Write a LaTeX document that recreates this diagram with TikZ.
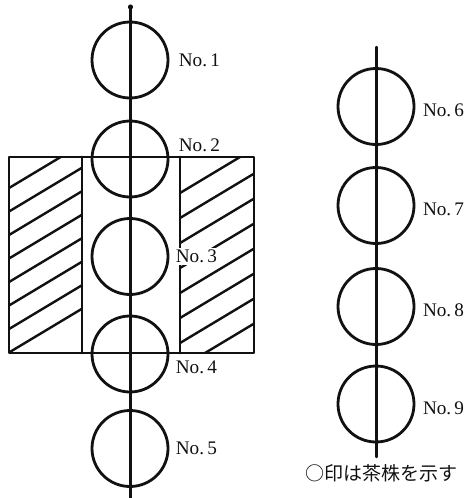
\documentclass[tikz,border=0pt]{standalone}
\usepackage{fontspec}
\setmainfont{Liberation Serif}
\newfontfamily\jpfont{Noto Sans CJK JP}
\usepackage{xcolor}
\usepackage{tikz}
\usetikzlibrary{positioning}
\definecolor{tpInk}{HTML}{111111}
\tikzset{
  tp diagram/.style={font=\fontsize{9.6}{11}\selectfont, text=tpInk,
    line cap=round, line join=round},
  tp plant/.style={circle, draw=tpInk, line width=1.4pt,
    minimum size=38pt, inner sep=0pt},
  tp axis/.style={draw=tpInk, line width=1.2pt},
  tp bed/.style={draw=tpInk, line width=1.4pt},
  tp hatch/.style={draw=tpInk, line width=1.2pt},
  tp label/.style={inner sep=1pt},
  tp note/.style={font=\jpfont\fontsize{9.5}{11}\selectfont, inner sep=0pt}
}
\begin{document}
\begin{tikzpicture}[tp diagram,x=0.5pt,y=-0.5pt]
\useasboundingbox (0,0) rectangle (463,498);
% hatched beds
\draw[tp bed] (9,157) rectangle (254,353);
\draw[tp bed] (82,157) -- (82,353);
\draw[tp bed] (180,157) -- (180,353);
\begin{scope}
  \clip (9,157) rectangle (82,353);
  \foreach \y in {188,211.5,...,353}
    \draw[tp hatch] (9,\y) -- ++(80,-48);
\end{scope}
\begin{scope}
  \clip (180,157) rectangle (254,353);
  \foreach \y in {193,218,...,370}
    \draw[tp hatch] (180,\y) -- ++(80,-48);
\end{scope}
% rows
\coordinate (ltop) at (130.5,7);
\coordinate (lbot) at (130.5,498);
\coordinate (rtop) at (376.5,47);
\coordinate (rbot) at (376.5,457);
\draw[tp axis] (ltop) -- (lbot);
\draw[tp axis] (rtop) -- (rbot);
\fill[tpInk] (ltop) circle (1.3pt);
\foreach \n/\y in {1/60,2/159,3/256.5,4/354,5/448.5}
  \node[tp plant] (p\n) at (130,\y) {};
\foreach \n/\y in {6/106.5,7/205.5,8/306.5,9/404}
  \node[tp plant] (p\n) at (376,\y) {};
% labels
\node[tp label,right=3.5pt of p1] (l1) {No.\,1};
\node[tp label,right=3.5pt of p2,yshift=7pt] (l2) {No.\,2};
\node[tp label,right=2pt of p3,fill=white] (l3) {No.\,3};
\node[tp label,right=2pt of p4,yshift=-6.5pt] (l4) {No.\,4};
\node[tp label,right=2pt of p5] (l5) {No.\,5};
\foreach \n in {6,7,8,9}
  \node[tp label,right=2.6pt of p\n,yshift=-2pt] (l\n) {No.\,\n};
\node[tp note] (note) at (381,473) {○印は茶株を示す};
\end{tikzpicture}
\end{document}
